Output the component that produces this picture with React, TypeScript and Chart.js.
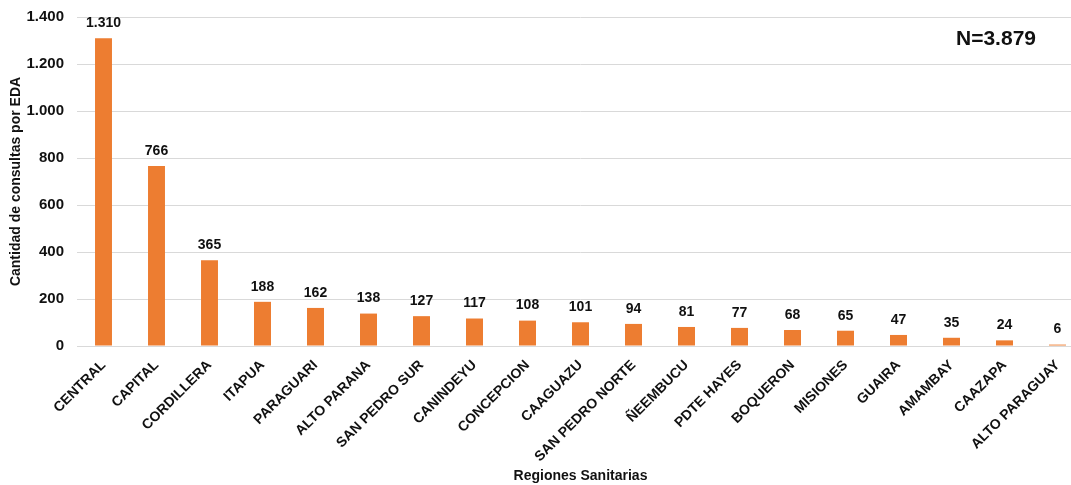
import React, { useEffect, useRef } from "react";
import { Chart, registerables } from "chart.js";

Chart.register(...registerables);

const categories = [
  "CENTRAL", "CAPITAL", "CORDILLERA", "ITAPUA", "PARAGUARI", "ALTO PARANA",
  "SAN PEDRO SUR", "CANINDEYU", "CONCEPCION", "CAAGUAZU", "SAN PEDRO NORTE",
  "ÑEEMBUCU", "PDTE HAYES", "BOQUERON", "MISIONES", "GUAIRA", "AMAMBAY",
  "CAAZAPA", "ALTO PARAGUAY",
];
const consultas = [1310, 766, 365, 188, 162, 138, 127, 117, 108, 101, 94, 81, 77, 68, 65, 47, 35, 24, 6];
const totalLabel = "N=3.879";
const yTitle = "Cantidad de consultas por EDA";
const xTitle = "Regiones Sanitarias";

const fmt = (v: number) => v.toString().replace(/\B(?=(\d{3})+(?!\d))/g, ".");
const FONT = "'Liberation Sans', Arial, sans-serif";
const TEXT = "#111111";

export default function App() {
  const ref = useRef<HTMLCanvasElement>(null);
  useEffect(() => {
    const labelsPlugin = {
      id: "valueLabels",
      afterDatasetsDraw(chart: any) {
        const ctx = chart.ctx;
        ctx.save();
        ctx.font = `bold 14px ${FONT}`;
        ctx.fillStyle = TEXT;
        ctx.textAlign = "center";
        ctx.textBaseline = "bottom";
        const meta = chart.getDatasetMeta(0);
        meta.data.forEach((bar: any, i: number) => {
          ctx.fillText(fmt(consultas[i]), bar.x, bar.y - 8);
        });
        ctx.font = `bold 21px ${FONT}`;
        ctx.textAlign = "center";
        ctx.textBaseline = "middle";
        ctx.fillText(totalLabel, 996, 39);
        ctx.restore();
      },
    };
    const chart = new Chart(ref.current!, {
      type: "bar",
      data: {
        labels: categories,
        datasets: [
          {
            data: consultas,
            backgroundColor: "#ED7D31",
            categoryPercentage: 1,
            barPercentage: 0.32,
          },
        ],
      },
      options: {
        animation: false,
        responsive: false,
        maintainAspectRatio: false,
        layout: { padding: { top: 17, right: 2, left: 0, bottom: 0 } },
        plugins: {
          legend: { display: false },
          tooltip: { enabled: false },
        },
        scales: {
          x: {
            afterFit: (axis: any) => {
              axis.height = 139;
            },
            grid: { display: false },
            border: { display: true, color: "#d9d9d9" },
            ticks: {
              minRotation: 45,
              maxRotation: 45,
              autoSkip: false,
              color: TEXT,
              font: { family: FONT, size: 14, weight: "bold" },
            },
            title: {
              display: true,
              text: xTitle,
              color: TEXT,
              font: { family: FONT, size: 14, weight: "bold" },
              padding: { top: 2, bottom: 0 },
            },
          },
          y: {
            afterFit: (axis: any) => {
              axis.width = 77;
              axis.paddingTop = 0;
              axis.paddingBottom = 0;
            },
            min: 0,
            max: 1400,
            ticks: {
              stepSize: 200,
              color: TEXT,
              padding: 13,
              font: { family: FONT, size: 15, weight: "bold" },
              callback: (v: any) => fmt(Number(v)),
            },
            grid: { color: "#d9d9d9", drawTicks: false },
            border: { display: false },
            title: {
              display: true,
              text: yTitle,
              color: TEXT,
              font: { family: FONT, size: 14, weight: "bold" },
              padding: { top: 8, bottom: 0 },
            },
          },
        },
      },
      plugins: [labelsPlugin],
    });
    return () => chart.destroy();
  }, []);
  return (
    <div style={{ position: "absolute", left: 0, top: 0, width: 1071, height: 485, overflow: "hidden", background: "#fff" }}>
      <canvas ref={ref} width={1086} height={485} style={{ width: 1086, height: 485 }} />
    </div>
  );
}
